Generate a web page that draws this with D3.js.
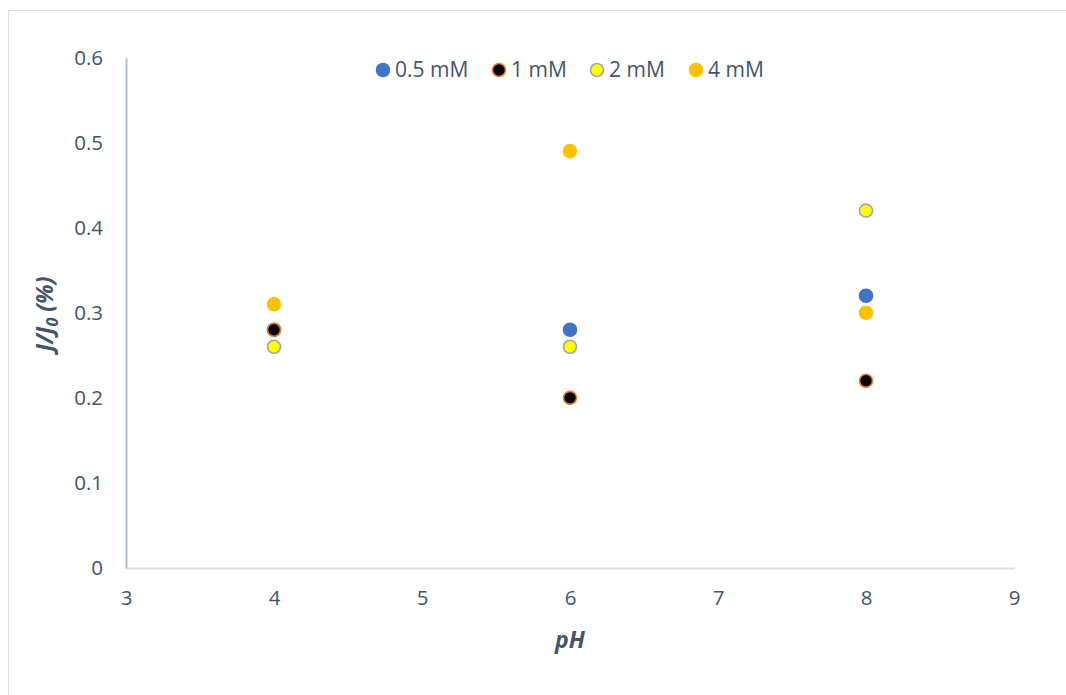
<!DOCTYPE html>
<html><head><meta charset="utf-8">
<script src="https://cdn.jsdelivr.net/npm/d3@7"></script>
<style>body{margin:0;background:#fff;} text{font-family:"Open Sans",sans-serif;}</style>
</head><body>
<svg id="c" width="1066" height="695"></svg>
<script>
const phValues = [4, 6, 8];
const seriesNames = ["0.5 mM", "1 mM", "2 mM", "4 mM"];
const s05 = [0.28, 0.28, 0.32];
const s1 = [0.28, 0.20, 0.22];
const s2 = [0.26, 0.26, 0.42];
const s4 = [0.31, 0.49, 0.30];
const xTicks = [3, 4, 5, 6, 7, 8, 9];
const yTicks = [0, 0.1, 0.2, 0.3, 0.4, 0.5, 0.6];

const fills = ["#4472C4", "#000000", "#FFFF00", "#FFC000"];
const strokes = ["#4472C4", "#ED7D31", "#A5A5A5", "#FFC000"];
const allSeries = [s05, s1, s2, s4];

const svg = d3.select("#c");
const txt = "#44546A";
svg.append("rect").attr("x", 8.5).attr("y", 10.5).attr("width", 1070).attr("height", 700)
  .attr("fill", "none").attr("stroke", "#D9DCE3").attr("stroke-width", 1);

const x = d3.scaleLinear().domain([3, 9]).range([126, 1014]);
const y = d3.scaleLinear().domain([0, 0.6]).range([568, 57.5]);

const xa = svg.append("g").attr("transform", `translate(0,${y(0)})`)
  .call(d3.axisBottom(x).tickValues(xTicks).tickSize(0).tickPadding(22).tickFormat(d3.format("d")));
xa.select(".domain").attr("stroke", "#D9DEE7").attr("stroke-width", 2);
xa.selectAll("text").attr("fill", txt).style("font-size", "20.5px").style("font-family", "Open Sans");

const ya = svg.append("g").attr("transform", `translate(${x(3)},0)`)
  .call(d3.axisLeft(y).tickValues(yTicks).tickSize(0).tickPadding(23).tickFormat(d => d === 0 ? "0" : d3.format(".1f")(d)));
ya.select(".domain").attr("stroke", "#B4BDD0").attr("stroke-width", 2);
ya.selectAll("text").attr("fill", txt).style("font-size", "20.5px").style("font-family", "Open Sans");

svg.append("text").attr("x", 570).attr("y", 648).attr("text-anchor", "middle")
  .attr("fill", txt).style("font-size", "23px").style("font-weight", "bold").style("font-style", "italic").text("pH");
const yt = svg.append("text").attr("transform", "translate(53,314) rotate(-90)").attr("text-anchor", "middle")
  .attr("fill", txt).style("font-size", "23px").style("font-weight", "bold").style("font-style", "italic");
yt.append("tspan").text("J/J");
yt.append("tspan").attr("dy", 5).style("font-size", "16px").text("0");
yt.append("tspan").attr("dy", -5).text(" (%)");

allSeries.forEach((s, i) => {
  svg.append("g").selectAll("circle").data(s).join("circle")
    .attr("cx", (d, j) => x(phValues[j])).attr("cy", d => y(d)).attr("r", 6.5)
    .attr("fill", fills[i]).attr("stroke", strokes[i]).attr("stroke-width", 1.6);
});

const legX = [383, 499, 597, 696];
seriesNames.forEach((n, i) => {
  const g = svg.append("g");
  g.append("circle").attr("cx", legX[i]).attr("cy", 70).attr("r", 6.5)
    .attr("fill", fills[i]).attr("stroke", strokes[i]).attr("stroke-width", 1.6);
  g.append("text").attr("x", legX[i] + 12).attr("y", 77).attr("fill", txt)
    .style("font-size", "21px").text(n);
});
</script>
</body></html>
